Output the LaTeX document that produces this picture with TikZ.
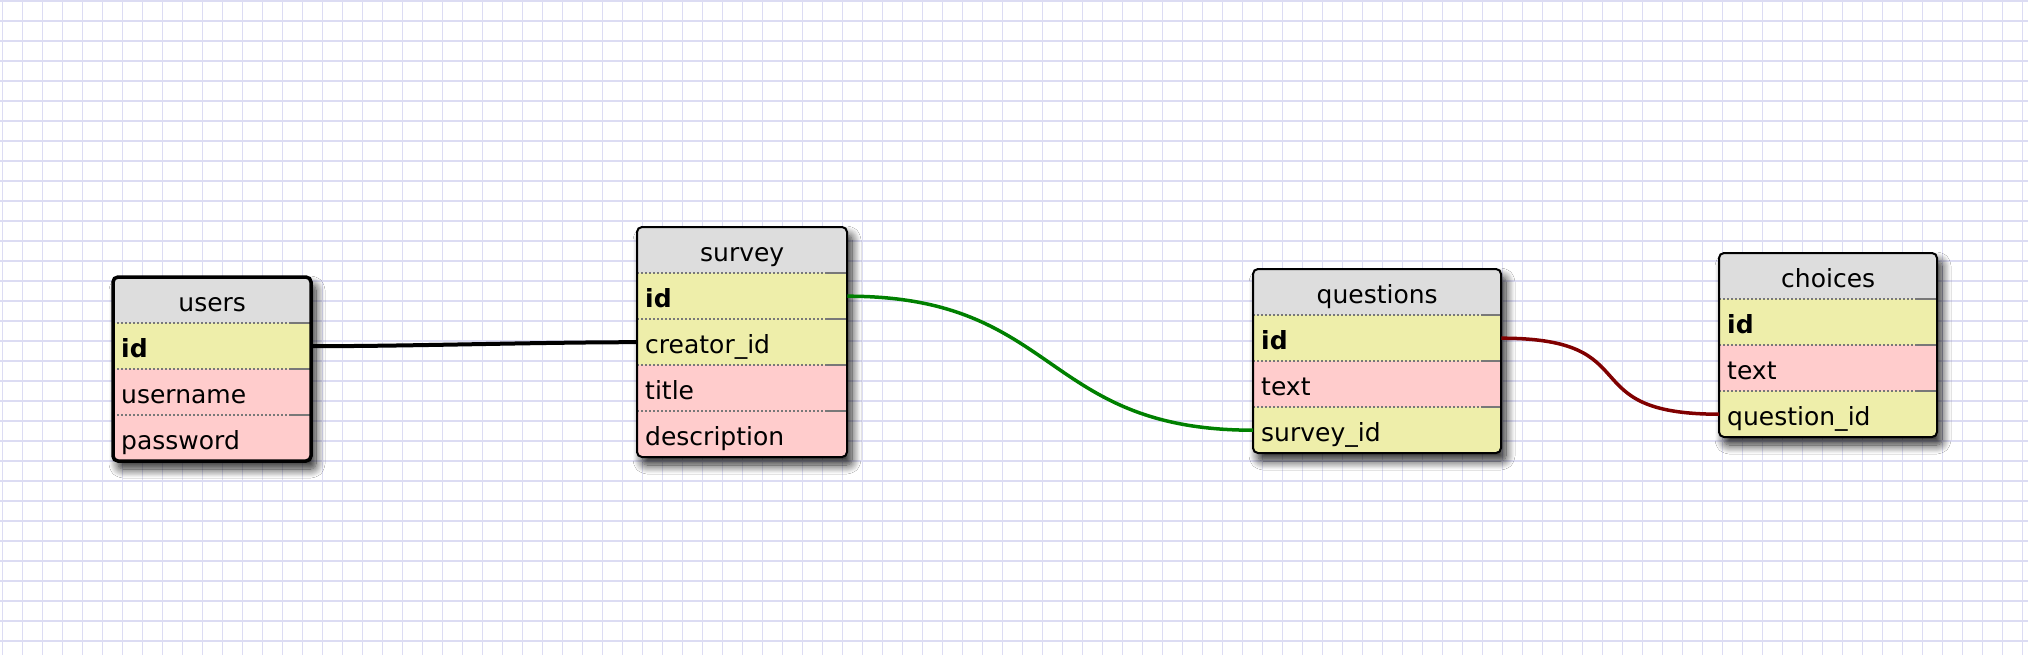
\documentclass[tikz,border=0pt]{standalone}
\usepackage{fontspec}
\setmainfont{DejaVu Sans}
\usetikzlibrary{shadows.blur}

\definecolor{gridblue}{RGB}{220,220,243}
\definecolor{headgray}{RGB}{221,221,221}
\definecolor{keyyellow}{RGB}{238,238,170}
\definecolor{datapink}{RGB}{255,204,204}
\definecolor{sepgray}{RGB}{120,120,120}
\definecolor{linkgreen}{RGB}{0,128,0}
\definecolor{linkred}{RGB}{128,0,0}

\tikzset{
  cell/.style={anchor=north west, inner xsep=8pt, inner ysep=0pt,
    minimum height=46pt, text height=22pt, text depth=0pt, align=left},
  tblhead/.style={cell, fill=headgray, align=center},
  keyrow/.style={cell, fill=keyyellow},
  datarow/.style={cell, fill=datapink},
  sep/.style={draw=sepgray, line width=2pt, dash pattern=on 2pt off 2pt},
  sepend/.style={solid},
  tblframe/.style={draw, line width=2pt, rounded corners=5pt},
  tblshadow/.style={fill=white, rounded corners=5pt,
    blur shadow={shadow xshift=5pt, shadow yshift=-8pt,
      shadow blur radius=9pt, shadow opacity=85, shadow blur steps=12}},
  link/.style={line width=3.5pt}
}

\begin{document}
\begin{tikzpicture}[x=1pt, y=-1pt, font=\fontsize{25}{30}\selectfont]
  \useasboundingbox (0,0) rectangle (2028,654);
  \fill[white] (0,0) rectangle (2028,654);
  \begin{scope}[xshift=2.5pt, yshift=-1pt]
    \draw[gridblue, line width=1.6pt, step=20pt] (-20,-20) grid (2040,670);
  \end{scope}

  % users
  \begin{scope}[shift={(113,277)}, nodes={text width=182pt}]
    \path[tblshadow] (0,0) rectangle (198,184);
    \begin{scope}
      \clip[rounded corners=5pt] (0,0) rectangle (198,184);
      \path (0,0) node[tblhead] (u0) {users}
        ++(0,46) node[keyrow] (u1) {\textbf{id}}
        ++(0,46) node[datarow] (u2) {username}
        ++(0,46) node[datarow] (u3) {password};
    \end{scope}
    \draw[sep] (u0.south west) -- ([xshift=-20]u0.south east) edge[sepend] (u0.south east);
    \draw[sep] (u1.south west) -- ([xshift=-20]u1.south east) edge[sepend] (u1.south east);
    \draw[sep] (u2.south west) -- ([xshift=-20]u2.south east) edge[sepend] (u2.south east);
    \draw[tblframe, line width=3.5pt] (0,0) rectangle (198,184);
  \end{scope}

  % survey
  \begin{scope}[shift={(637,227)}, nodes={text width=194pt}]
    \path[tblshadow] (0,0) rectangle (210,230);
    \begin{scope}
      \clip[rounded corners=5pt] (0,0) rectangle (210,230);
      \path (0,0) node[tblhead] (s0) {survey}
        ++(0,46) node[keyrow] (s1) {\textbf{id}}
        ++(0,46) node[keyrow] (s2) {creator\_id}
        ++(0,46) node[datarow] (s3) {title}
        ++(0,46) node[datarow] (s4) {description};
    \end{scope}
    \draw[sep] (s0.south west) -- ([xshift=-20]s0.south east) edge[sepend] (s0.south east);
    \draw[sep] (s1.south west) -- ([xshift=-20]s1.south east) edge[sepend] (s1.south east);
    \draw[sep] (s2.south west) -- ([xshift=-20]s2.south east) edge[sepend] (s2.south east);
    \draw[sep] (s3.south west) -- ([xshift=-20]s3.south east) edge[sepend] (s3.south east);
    \draw[tblframe] (0,0) rectangle (210,230);
  \end{scope}

  % questions
  \begin{scope}[shift={(1253,269)}, nodes={text width=232pt}]
    \path[tblshadow] (0,0) rectangle (248,184);
    \begin{scope}
      \clip[rounded corners=5pt] (0,0) rectangle (248,184);
      \path (0,0) node[tblhead] (q0) {questions}
        ++(0,46) node[keyrow] (q1) {\textbf{id}}
        ++(0,46) node[datarow] (q2) {text}
        ++(0,46) node[keyrow] (q3) {survey\_id};
    \end{scope}
    \draw[sep] (q0.south west) -- ([xshift=-20]q0.south east) edge[sepend] (q0.south east);
    \draw[sep] (q1.south west) -- ([xshift=-20]q1.south east) edge[sepend] (q1.south east);
    \draw[sep] (q2.south west) -- ([xshift=-20]q2.south east) edge[sepend] (q2.south east);
    \draw[tblframe] (0,0) rectangle (248,184);
  \end{scope}

  % choices
  \begin{scope}[shift={(1719,253)}, nodes={text width=202pt}]
    \path[tblshadow] (0,0) rectangle (218,184);
    \begin{scope}
      \clip[rounded corners=5pt] (0,0) rectangle (218,184);
      \path (0,0) node[tblhead] (c0) {choices}
        ++(0,46) node[keyrow] (c1) {\textbf{id}}
        ++(0,46) node[datarow] (c2) {text}
        ++(0,46) node[keyrow] (c3) {question\_id};
    \end{scope}
    \draw[sep] (c0.south west) -- ([xshift=-20]c0.south east) edge[sepend] (c0.south east);
    \draw[sep] (c1.south west) -- ([xshift=-20]c1.south east) edge[sepend] (c1.south east);
    \draw[sep] (c2.south west) -- ([xshift=-20]c2.south east) edge[sepend] (c2.south east);
    \draw[tblframe] (0,0) rectangle (218,184);
  \end{scope}

  % links
  \draw[link, line width=4pt] (u1.east) .. controls +(100,0) and +(-100,0) .. (s2.west);
  \draw[link, linkgreen] (s1.east) .. controls +(212,0) and +(-212,0) .. (q3.west);
  \draw[link, linkred] (q1.east) .. controls +(150,0) and +(-150,0) .. (c3.west);
\end{tikzpicture}
\end{document}
